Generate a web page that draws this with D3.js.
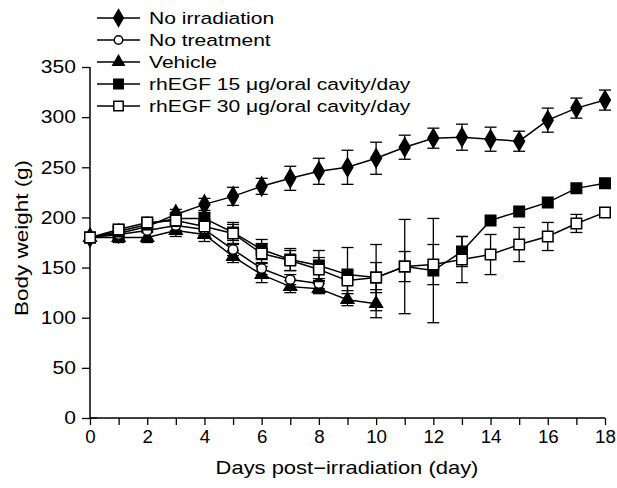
<!DOCTYPE html>
<html><head><meta charset="utf-8">
<script src="https://cdn.jsdelivr.net/npm/d3@7"></script>
<style>body{margin:0;background:#fff}svg{display:block}text{font-family:"Liberation Sans",Arial,sans-serif;fill:#000}</style>
</head><body><svg id="c" width="617" height="488"></svg>
<script>
const days = d3.range(0, 19);
const xTickLabels = [0,2,4,6,8,10,12,14,16,18];
const yTickLabels = [0,50,100,150,200,250,300,350];
const seriesNames = ["No irradiation","No treatment","Vehicle","rhEGF 15 \u03bcg/oral cavity/day","rhEGF 30 \u03bcg/oral cavity/day"];
const noIrrMean = [180,184,191,203,213,221,231,239,246,250,259,270,279,280,278,276,297,309,317];
const noIrrErr  = [4,5,5,5,6,9,8,12,13,17,16,12,10,13,12,10,12,10,10];
const noTreatMean = [180,183,187,192,188,168,149,138,134];
const noTreatErr  = [4,4,4,5,6,6,6,5,5];
const vehicleMean = [180,180,180,187,183,161,143,131,129,118,114];
const vehicleErr  = [5,5,5,6,7,6,8,6,5,6,14];
const egf15Mean = [180,186,193,199,199,185,168,158,152,143,140,151,147,166,197,206,215,229,234];
const egf15Err  = [4,5,5,6,6,8,10,11,15,27,15,47,52,15,3,3,3,3,3];
const egf30Mean = [180,188,195,197,191,184,164,157,148,137,140,151,153,158,163,173,181,194,205];
const egf30Err  = [4,5,5,6,7,11,10,10,12,10,33,15,20,23,20,17,14,9,3];

const svg = d3.select("#c");
const x = d3.scaleLinear().domain([0,18]).range([90,605]);
const y = d3.scaleLinear().domain([0,350]).range([418,67]);

// axes
const xAxis = d3.axisBottom(x).tickValues(days).tickSize(7).tickPadding(5)
  .tickFormat(d => xTickLabels.includes(d) ? d : "");
const gx = svg.append("g").attr("transform","translate(0,418)").call(xAxis);
const yAxis = d3.axisLeft(y).tickValues(yTickLabels).tickSize(8).tickPadding(4);
const gy = svg.append("g").attr("transform","translate(90,0)").call(yAxis);
[gx,gy].forEach(g=>{
  g.select(".domain").attr("stroke","#000").attr("stroke-width",1.5);
  g.selectAll(".tick line").attr("stroke","#000").attr("stroke-width",1.3);
  g.selectAll(".tick text").style("font-size","18px").style("font-family","'Liberation Sans',Arial,sans-serif");
});
gx.selectAll(".tick text").attr("transform","scale(1.04,1)");
gy.selectAll(".tick text").attr("x",-12).attr("transform","scale(1.17,1)");
gx.select(".domain").attr("d","M90,0H605");
gy.select(".domain").attr("d","M0,418V67");
svg.append("line").attr("x1",90).attr("x2",97).attr("y1",418).attr("y2",418).attr("stroke","#000").attr("stroke-width",1.3);

svg.append("g").attr("transform","translate(347,474) scale(1.22,1)")
  .append("text").attr("text-anchor","middle").style("font-size","18px")
  .text("Days post\u2212irradiation (day)");
svg.append("g").attr("transform","translate(28,238) rotate(-90) scale(1.25,1)")
  .append("text").attr("text-anchor","middle").style("font-size","18px")
  .text("Body weight (g)");

const series = [
  {name:seriesNames[0], mean:noIrrMean, err:noIrrErr, sym:d3.symbolDiamond, size:100, fill:"#000"},
  {name:seriesNames[2], mean:vehicleMean, err:vehicleErr, sym:d3.symbolTriangle, size:70, fill:"#000"},
  {name:seriesNames[1], mean:noTreatMean, err:noTreatErr, sym:d3.symbolCircle, size:70, fill:"#fff"},
  {name:seriesNames[3], mean:egf15Mean, err:egf15Err, sym:d3.symbolSquare, size:110, fill:"#000"},
  {name:seriesNames[4], mean:egf30Mean, err:egf30Err, sym:d3.symbolSquare, size:110, fill:"#fff"}
];
const line = d3.line().x((d,i)=>x(i)).y(d=>y(d));
const cap = 6;
series.forEach(s=>{
  const g = svg.append("g");
  const eg = g.append("g").attr("stroke","#000").attr("stroke-width",1.3);
  s.mean.forEach((m,i)=>{
    const e = s.err[i];
    if (e<=4) return;
    const xi = x(i), y1 = y(m+e), y2 = y(m-e);
    eg.append("line").attr("x1",xi).attr("x2",xi).attr("y1",y1).attr("y2",y2);
    eg.append("line").attr("x1",xi-cap).attr("x2",xi+cap).attr("y1",y1).attr("y2",y1);
    eg.append("line").attr("x1",xi-cap).attr("x2",xi+cap).attr("y1",y2).attr("y2",y2);
  });
  g.append("path").attr("d",line(s.mean)).attr("fill","none").attr("stroke","#000").attr("stroke-width",1.5);
  g.selectAll("path.m").data(s.mean).join("path").attr("class","m")
    .attr("transform",(d,i)=>`translate(${x(i)},${y(d)})`)
    .attr("d",d3.symbol(s.sym,s.size)).attr("fill",s.fill).attr("stroke","#000").attr("stroke-width",1.5);
});

// legend
const legendOrder = [series[0],series[2],series[1],series[3],series[4]];
const lg = svg.append("g");
const rowY = d3.scaleLinear().domain([0,4]).range([18,106]);
legendOrder.forEach((s,i)=>{
  const yy = rowY(i);
  lg.append("line").attr("x1",97).attr("x2",140).attr("y1",yy).attr("y2",yy).attr("stroke","#000").attr("stroke-width",1.5);
  lg.append("path").attr("transform",`translate(118.5,${yy})`).attr("d",d3.symbol(s.sym,s.size*0.8))
    .attr("fill",s.fill).attr("stroke","#000").attr("stroke-width",1.5);
  lg.append("g").attr("transform",`translate(149,${yy+6}) scale(1.24,1)`)
    .append("text").style("font-size","17px").text(s.name);
});
</script></body></html>
